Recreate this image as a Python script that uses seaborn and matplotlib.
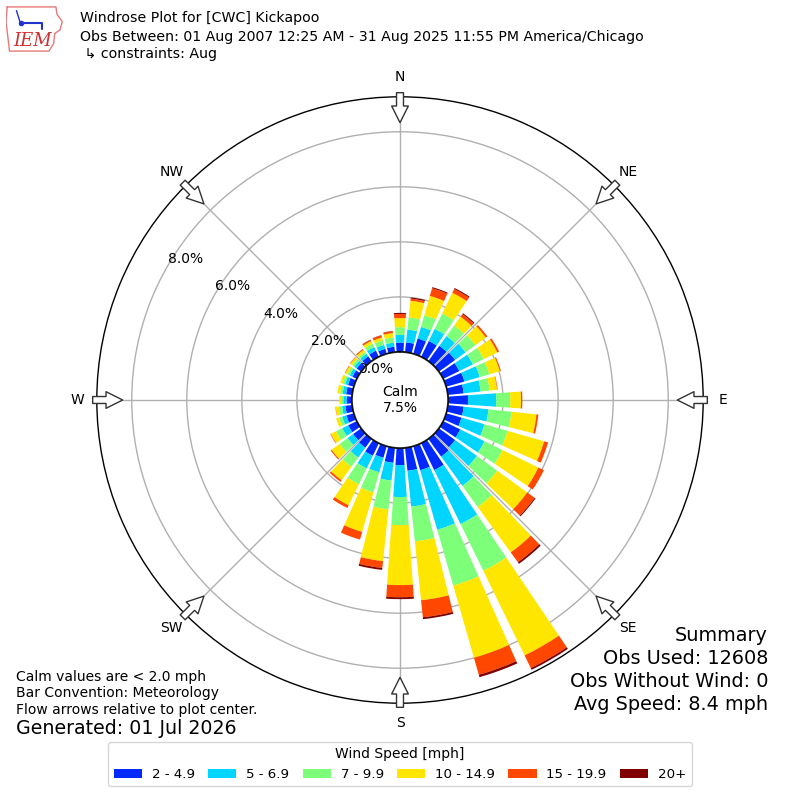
import numpy as np
import matplotlib
matplotlib.use('Agg')
import matplotlib.pyplot as plt
import seaborn as sns

# wind direction bins (deg, meteorological)
directions = np.arange(0, 360, 10)
speed_bins = ['2 - 4.9', '5 - 6.9', '7 - 9.9', '10 - 14.9', '15 - 19.9', '20+']

# percent of obs per direction, one list per speed bin
spd_2_5 = [0.34, 0.36, 0.58, 0.64, 0.69, 0.73, 0.65, 0.69, 0.58, 0.73, 0.58, 0.58,
           0.69, 0.73, 0.80, 1.09, 0.91, 0.84, 0.62, 0.55, 0.44, 0.51, 0.40, 0.36,
           0.35, 0.28, 0.25, 0.19, 0.22, 0.22, 0.18, 0.20, 0.22, 0.25, 0.19, 0.20]
spd_5_7 = [0.28, 0.47, 0.44, 0.49, 0.44, 0.47, 0.55, 0.58, 0.62, 1.02, 0.91, 0.87,
           0.98, 0.98, 1.31, 2.18, 2.25, 1.31, 1.16, 0.65, 0.55, 0.51, 0.44, 0.25,
           0.24, 0.16, 0.12, 0.12, 0.13, 0.11, 0.11, 0.11, 0.11, 0.15, 0.15, 0.15]
spd_7_10 = [0.28, 0.44, 0.44, 0.62, 0.47, 0.44, 0.44, 0.36, 0.33, 0.51, 0.84, 0.87,
            0.73, 0.91, 0.95, 1.89, 2.11, 1.27, 1.02, 1.05, 0.76, 0.64, 0.42, 0.36,
            0.25, 0.12, 0.12, 0.08, 0.09, 0.09, 0.09, 0.09, 0.09, 0.13, 0.17, 0.19]
spd_10_15 = [0.33, 0.61, 0.73, 0.84, 0.40, 0.47, 0.55, 0.40, 0.27, 0.39, 0.91, 1.38,
             1.45, 1.35, 2.04, 3.42, 2.73, 2.15, 2.18, 1.89, 1.49, 0.85, 0.60, 0.36,
             0.21, 0.11, 0.12, 0.07, 0.10, 0.09, 0.09, 0.09, 0.09, 0.11, 0.11, 0.16]
spd_15_20 = [0.15, 0.08, 0.29, 0.15, 0.11, 0.07, 0.07, 0.04, 0.02, 0.05, 0.07, 0.15,
             0.22, 0.33, 0.44, 0.51, 0.64, 0.62, 0.44, 0.25, 0.29, 0.11, 0.07, 0.04,
             0.02, 0.00, 0.01, 0.00, 0.00, 0.00, 0.02, 0.02, 0.04, 0.05, 0.08, 0.07]
spd_20p = [0.04, 0.04, 0.04, 0.04, 0.04, 0.00, 0.00, 0.00, 0.00, 0.00, 0.00, 0.00,
           0.00, 0.04, 0.07, 0.07, 0.09, 0.07, 0.07, 0.07, 0.00, 0.00, 0.00, 0.00,
           0.00, 0.00, 0.00, 0.00, 0.00, 0.00, 0.00, 0.00, 0.00, 0.01, 0.01, 0.01]

calm_pct = 7.5
rticks = [0, 2, 4, 6, 8]
compass = ['N', 'NE', 'E', 'SE', 'S', 'SW', 'W', 'NW']
compass_deg = [0, 45, 90, 135, 180, 225, 270, 315]

sns.set_theme(style='white')
plt.rcParams['font.family'] = ['DejaVu Sans']
plt.rcParams['text.color'] = 'black'
plt.rcParams['xtick.color'] = 'black'
plt.rcParams['ytick.color'] = 'black'

colors = sns.color_palette(plt.get_cmap('jet')(np.linspace(1 / 6, 1, 6)))

fig = plt.figure(figsize=(8, 8), dpi=100)
ax = fig.add_axes([0.121, 0.121, 0.758, 0.758], projection='polar')
ax.set_theta_zero_location('N')
ax.set_theta_direction(-1)

theta = np.deg2rad(directions)
width = np.deg2rad(10) * 0.8
bottom = np.zeros(len(directions))
for vals, c, lab in zip([spd_2_5, spd_5_7, spd_7_10, spd_10_15, spd_15_20, spd_20p],
                        colors, speed_bins):
    ax.bar(theta, vals, width=width, bottom=bottom, color=c, label=lab,
           linewidth=0, zorder=2)
    bottom += np.array(vals)

ax.set_rorigin(-1.745)
ax.set_ylim(0, 9.27)
ax.set_yticks(rticks)
ax.set_yticklabels([f'{t:.1f}%' for t in rticks], fontsize=10)
ax.set_rlabel_position(300)
ax.set_xticks(np.deg2rad(compass_deg))
ax.set_xticklabels(compass, fontsize=10)
ax.tick_params(axis='x', pad=1)
ax.grid(True, color='#b0b0b0', lw=1)
ax.spines['polar'].set_color('black')
ax.spines['polar'].set_linewidth(1)

# calm circle
ring = np.linspace(0, 2 * np.pi, 361)
ax.plot(ring, np.zeros_like(ring), color='black', lw=1, zorder=3)
ax.text(0, -1.745, f'Calm\n{calm_pct:.1f}%', ha='center', va='center', fontsize=10)

# flow arrows
for d in compass_deg:
    ax.annotate('', xy=(np.deg2rad(d), 8.33), xytext=(np.deg2rad(d), 9.42),
                annotation_clip=False, zorder=4,
                arrowprops=dict(arrowstyle='simple,head_length=1.2,head_width=1.2,tail_width=0.5',
                                mutation_scale=10, fc='white', ec='#333333', lw=1,
                                shrinkA=0, shrinkB=0))

# rough IEM logo
lax = fig.add_axes([6 / 800, 1 - 52 / 800, 58 / 800, 46 / 800])
lax.axis('off')
lax.set_xlim(0, 1)
lax.set_ylim(0, 1)
iowa_x = [0.02, 0.86, 0.88, 0.97, 0.93, 0.84, 0.82, 0.74, 0.06, 0.03, 0.0, 0.02]
iowa_y = [0.98, 0.98, 0.82, 0.66, 0.48, 0.40, 0.18, 0.02, 0.02, 0.35, 0.65, 0.98]
lax.plot(iowa_x, iowa_y, color='#e87878', lw=1)
lax.plot([0.25, 0.62, 0.62], [0.62, 0.62, 0.5], color='#2233cc', lw=1.5)
lax.plot([0.25], [0.62], 'o', color='#2233cc', ms=3)
lax.plot([0.18, 0.25], [0.9, 0.62], color='#2233cc', lw=1)
lax.text(0.45, 0.25, 'IEM', color='#d03030', fontsize=13, style='italic',
         family='DejaVu Serif', ha='center', va='center')

# header
fig.text(0.1, 0.9775, 'Windrose Plot for [CWC] Kickapoo', fontsize=10.15, va='center')
fig.text(0.1, 0.954, 'Obs Between: 01 Aug 2007 12:25 AM - 31 Aug 2025 11:55 PM America/Chicago',
         fontsize=10.15, va='center')
fig.text(0.1, 0.9325, ' \u21b3 constraints: Aug', fontsize=10.15, va='center')

# notes
fig.text(0.02, 0.154, 'Calm values are < 2.0 mph', fontsize=10, va='center')
fig.text(0.02, 0.134, 'Bar Convention: Meteorology', fontsize=10, va='center')
fig.text(0.02, 0.1125, 'Flow arrows relative to plot center.', fontsize=10, va='center')
fig.text(0.02, 0.089, 'Generated: 01 Jul 2026', fontsize=13.7, va='center')

summary = ['Summary', 'Obs Used: 12608', 'Obs Without Wind: 0', 'Avg Speed: 8.4 mph']
for i, s in enumerate(summary):
    fig.text(0.96, 0.206 - i * 0.029, s, fontsize=13.9, ha='right', va='center')

handles, labels = ax.get_legend_handles_labels()
fig.legend(handles, labels, loc='center', bbox_to_anchor=(0.5, 0.045), ncol=6,
           title='Wind Speed [mph]', fontsize=9.6, title_fontsize=10,
           handlelength=2.1, handleheight=0.7, handletextpad=0.75,
           columnspacing=1.0, frameon=True, edgecolor='#cccccc')

fig.savefig('out.png', dpi=100)
